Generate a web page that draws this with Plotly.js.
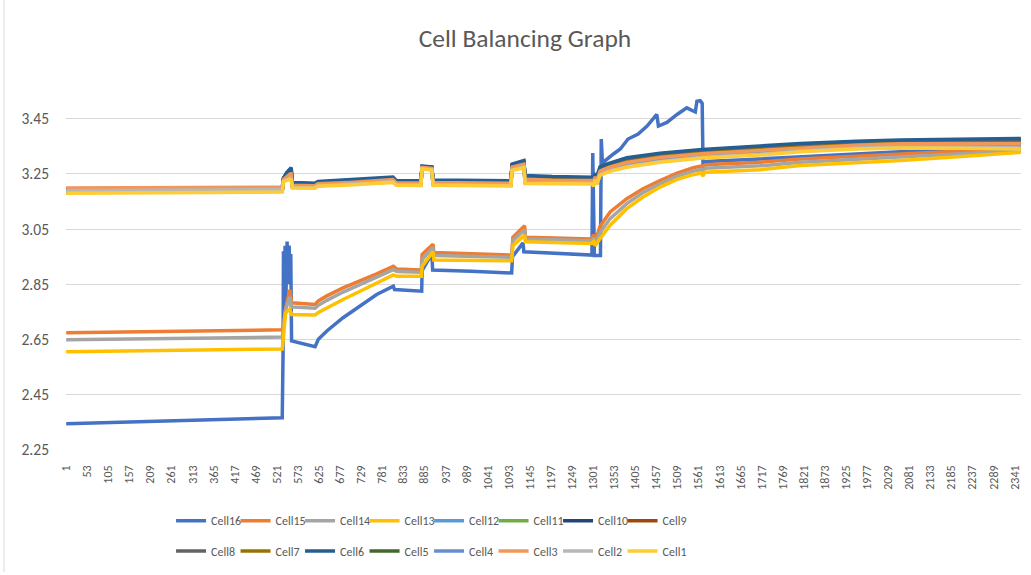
<!DOCTYPE html>
<html>
<head>
<meta charset="utf-8">
<script src="https://cdn.plot.ly/plotly-3.0.1.min.js"></script>
<style>html,body{margin:0;padding:0;background:#fff;}#chart{width:1031px;height:575px;}</style>
</head>
<body>
<div id="chart"></div>
<script>
// X tick labels (category numbers shown on the axis)
var tickNumbers = [1,53,105,157,209,261,313,365,417,469,521,573,625,677,729,781,833,885,937,989,1041,1093,1145,1197,1249,1301,1353,1405,1457,1509,1561,1613,1665,1717,1769,1821,1873,1925,1977,2029,2081,2133,2185,2237,2289,2341];
var seriesNames = ["Cell16","Cell15","Cell14","Cell13","Cell12","Cell11","Cell10","Cell9","Cell8","Cell7","Cell6","Cell5","Cell4","Cell3","Cell2","Cell1"];
var seriesColors = ["#4472C4","#ED7D31","#A5A5A5","#FFC000","#5B9BD5","#70AD47","#264478","#9E480E","#636363","#997300","#255E91","#43682B","#698ED0","#F1975A","#B7B7B7","#FFCD33"];

// Cell16 sample points (x = sample index)
var x16 = [1,534,536,537,539,541,543,546,548,551,553,555,557,615,623,644,684,718,767,808,811,878,879,903,905,1000,1100,1102,1128,1130,1200,1298,1300,1302,1304,1319,1321,1324,1331,1351,1368,1387,1412,1434,1458,1462,1483,1508,1532,1553,1557,1565,1570,1572,1580,1700,1812,1950,2059,2200,2356];
var cell16 = [2.345,2.367,2.60,2.97,2.75,2.99,2.80,3.005,2.85,2.99,2.87,2.96,2.645,2.624,2.651,2.681,2.729,2.765,2.813,2.843,2.831,2.825,2.90,2.96,2.902,2.897,2.891,2.95,3.00,2.968,2.963,2.956,3.325,2.956,2.954,2.954,3.376,3.285,3.298,3.322,3.340,3.376,3.394,3.423,3.465,3.423,3.436,3.465,3.489,3.474,3.513,3.515,3.505,3.29,3.295,3.303,3.312,3.322,3.330,3.335,3.338];

// Lower group (Cell15, Cell14, Cell13)
var xLow = [1,534,537,542,548,553,557,615,623,644,684,726,767,808,817,877,879,893,906,908,1000,1100,1103,1118,1132,1134,1200,1298,1302,1306,1318,1343,1384,1424,1466,1508,1548,1568,1572,1577,1590,1713,1812,1950,2059,2200,2356];
var cell15 = [2.675,2.685,2.70,2.76,2.80,2.830,2.783,2.777,2.790,2.808,2.837,2.862,2.888,2.915,2.905,2.902,2.958,2.978,2.995,2.965,2.961,2.956,3.020,3.042,3.062,3.020,3.017,3.014,3.030,3.005,3.060,3.112,3.160,3.196,3.226,3.253,3.272,3.278,3.266,3.282,3.284,3.292,3.304,3.315,3.322,3.332,3.340];
var cell14 = [2.649,2.659,2.69,2.755,2.785,2.805,2.768,2.763,2.774,2.792,2.822,2.848,2.876,2.903,2.896,2.894,2.94,2.962,2.984,2.954,2.951,2.948,3.008,3.028,3.048,3.014,3.011,3.008,3.018,2.998,3.038,3.088,3.142,3.182,3.214,3.242,3.260,3.266,3.256,3.27,3.271,3.279,3.292,3.303,3.311,3.323,3.334];
var cell13 = [2.606,2.616,2.66,2.745,2.755,2.759,2.741,2.739,2.748,2.765,2.795,2.825,2.855,2.884,2.879,2.879,2.915,2.945,2.969,2.938,2.937,2.935,2.990,3.010,3.028,3.004,3.001,2.998,3.005,2.990,3.016,3.064,3.124,3.166,3.202,3.230,3.247,3.253,3.242,3.256,3.257,3.265,3.280,3.290,3.298,3.312,3.328];

// Upper group (Cell12 ... Cell1)
var xUp = [1,534,537,545,553,556,559,614,622,700,760,807,815,876,879,903,906,1000,1098,1101,1130,1133,1200,1298,1302,1306,1310,1318,1340,1384,1466,1570,1713,1812,1950,2059,2200,2356];
var cell12 = [3.187,3.190,3.228,3.238,3.246,3.247,3.207,3.206,3.212,3.218,3.222,3.227,3.216,3.215,3.272,3.269,3.217,3.216,3.214,3.272,3.283,3.227,3.225,3.224,3.216,3.238,3.224,3.257,3.271,3.288,3.306,3.320,3.332,3.343,3.352,3.356,3.356,3.356];
var cell11 = [3.183,3.187,3.224,3.231,3.237,3.236,3.203,3.201,3.208,3.213,3.217,3.222,3.212,3.211,3.270,3.266,3.212,3.211,3.209,3.266,3.277,3.220,3.219,3.218,3.210,3.232,3.217,3.250,3.263,3.280,3.298,3.313,3.324,3.335,3.345,3.349,3.349,3.347];
var cell10 = [3.195,3.198,3.234,3.252,3.264,3.268,3.217,3.214,3.220,3.226,3.231,3.236,3.224,3.223,3.277,3.274,3.226,3.225,3.223,3.283,3.295,3.241,3.237,3.236,3.229,3.250,3.237,3.272,3.285,3.305,3.322,3.335,3.349,3.357,3.365,3.370,3.372,3.374];
var cell9  = [3.196,3.199,3.232,3.249,3.260,3.263,3.215,3.212,3.219,3.224,3.229,3.234,3.223,3.222,3.276,3.273,3.224,3.223,3.221,3.280,3.293,3.238,3.235,3.233,3.227,3.247,3.234,3.269,3.282,3.301,3.318,3.332,3.345,3.354,3.362,3.367,3.369,3.370];
var cell8  = [3.191,3.195,3.231,3.246,3.257,3.259,3.213,3.211,3.217,3.223,3.227,3.232,3.221,3.220,3.275,3.272,3.222,3.221,3.219,3.278,3.290,3.235,3.232,3.231,3.224,3.245,3.232,3.266,3.279,3.298,3.315,3.329,3.342,3.351,3.360,3.364,3.365,3.367];
var cell7  = [3.190,3.193,3.230,3.243,3.253,3.254,3.211,3.209,3.215,3.221,3.225,3.230,3.219,3.218,3.274,3.271,3.220,3.219,3.217,3.276,3.288,3.232,3.230,3.228,3.221,3.242,3.229,3.263,3.276,3.294,3.312,3.326,3.338,3.348,3.357,3.361,3.362,3.363];
var cell6  = [3.194,3.197,3.235,3.255,3.268,3.272,3.219,3.216,3.222,3.228,3.233,3.238,3.226,3.225,3.278,3.275,3.228,3.227,3.225,3.285,3.298,3.244,3.240,3.238,3.232,3.252,3.240,3.275,3.288,3.308,3.325,3.338,3.352,3.360,3.368,3.373,3.375,3.378];
var cell5  = [3.185,3.189,3.226,3.236,3.243,3.243,3.206,3.204,3.211,3.216,3.220,3.225,3.215,3.214,3.271,3.268,3.215,3.214,3.212,3.270,3.281,3.225,3.223,3.221,3.214,3.236,3.221,3.254,3.268,3.286,3.303,3.317,3.330,3.340,3.349,3.354,3.354,3.353];
var cell4  = [3.184,3.188,3.225,3.234,3.240,3.239,3.204,3.203,3.209,3.215,3.219,3.224,3.213,3.212,3.271,3.267,3.214,3.213,3.211,3.268,3.279,3.223,3.221,3.220,3.212,3.234,3.219,3.252,3.266,3.283,3.301,3.315,3.327,3.338,3.347,3.352,3.351,3.350];
var cell3  = [3.199,3.202,3.230,3.241,3.249,3.250,3.209,3.207,3.214,3.219,3.224,3.229,3.218,3.217,3.273,3.270,3.219,3.218,3.216,3.274,3.285,3.230,3.227,3.226,3.219,3.240,3.226,3.260,3.273,3.291,3.309,3.323,3.335,3.345,3.354,3.359,3.359,3.359];
var cell2  = [3.189,3.193,3.223,3.229,3.234,3.232,3.201,3.200,3.207,3.212,3.216,3.221,3.211,3.210,3.269,3.265,3.211,3.210,3.208,3.264,3.275,3.218,3.217,3.216,3.208,3.230,3.215,3.247,3.261,3.277,3.295,3.310,3.321,3.333,3.343,3.347,3.346,3.344];
var cell1  = [3.180,3.184,3.222,3.226,3.230,3.228,3.199,3.198,3.205,3.210,3.214,3.219,3.209,3.208,3.268,3.264,3.209,3.208,3.206,3.262,3.272,3.215,3.214,3.213,3.205,3.228,3.212,3.244,3.258,3.274,3.292,3.307,3.318,3.330,3.340,3.344,3.343,3.340];

var seriesX = [x16,xLow,xLow,xLow,xUp,xUp,xUp,xUp,xUp,xUp,xUp,xUp,xUp,xUp,xUp,xUp];
var seriesY = [cell16,cell15,cell14,cell13,cell12,cell11,cell10,cell9,cell8,cell7,cell6,cell5,cell4,cell3,cell2,cell1];

var FONT = 'Carlito, Calibri, "Liberation Sans Narrow", "Open Sans", sans-serif';
var traces = seriesNames.map(function(n, i){
  return {
    type: 'scatter', mode: 'lines', name: n,
    x: seriesX[i], y: seriesY[i],
    line: {color: seriesColors[i], width: 3.5},
    legend: i < 8 ? 'legend' : 'legend2',
    hoverinfo: 'skip'
  };
});

var legendCommon = {
  orientation: 'h', xanchor: 'left', yanchor: 'middle',
  font: {family: FONT, size: 12, color: '#595959'},
  entrywidth: 19.5, entrywidthmode: 'pixels', itemwidth: 30,
  bgcolor: 'rgba(0,0,0,0)', borderwidth: 0, traceorder: 'normal',
  itemclick: false, itemdoubleclick: false
};

var layout = {
  width: 1031, height: 575,
  margin: {l: 66, r: 10, t: 91, b: 122, pad: 0},
  paper_bgcolor: '#ffffff', plot_bgcolor: '#ffffff',
  font: {family: FONT, color: '#595959'},
  title: {text: 'Cell Balancing Graph', font: {family: FONT, size: 25.5, color: '#595959'},
          x: 0.4806, xref: 'paper', xanchor: 'center', y: 0.933, yref: 'container', yanchor: 'middle'},
  xaxis: {
    range: [0.5, 2356.5], showgrid: false, zeroline: false, showline: false,
    tickmode: 'array', tickvals: tickNumbers, ticktext: tickNumbers.map(String),
    tickangle: -90, ticks: '', ticklabelstandoff: 12,
    tickfont: {family: FONT, size: 12, color: '#595959'}
  },
  yaxis: {
    range: [2.25, 3.55], tick0: 2.25, dtick: 0.2, tickformat: '.2f',
    showgrid: true, gridcolor: '#d9d9d9', gridwidth: 1, zeroline: false, showline: false,
    ticks: '', ticklabelstandoff: 16,
    tickfont: {family: FONT, size: 15.5, color: '#595959'}
  },
  legend: Object.assign({}, legendCommon, {x: 0.110, y: -0.197}),
  legend2: Object.assign({}, legendCommon, {x: 0.110, y: -0.2815}),
  shapes: [{type: 'line', xref: 'paper', yref: 'paper', x0: -0.0649, x1: -0.0649, y0: -0.34, y1: 1.26,
            line: {color: '#d9d9d9', width: 1}}],
  showlegend: true
};

Plotly.newPlot('chart', traces, layout, {displayModeBar: false, staticPlot: true});
</script>
</body>
</html>
